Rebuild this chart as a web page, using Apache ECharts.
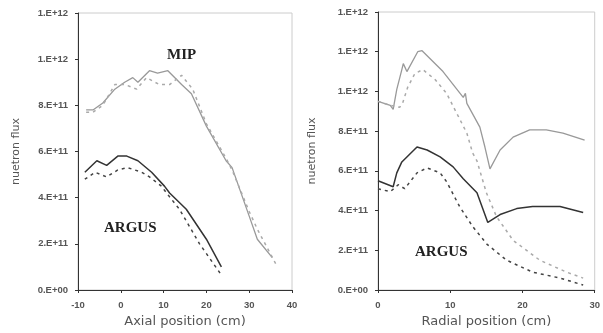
<!DOCTYPE html>
<html>
<head>
<meta charset="utf-8">
<script src="https://cdn.jsdelivr.net/npm/echarts@6/dist/echarts.min.js"></script>
<style>
  html, body { margin: 0; padding: 0; background: #fff; }
  #chart { width: 603px; height: 333px; }
</style>
</head>
<body>
<div id="chart"></div>
<script>
// flux values are in units of 1E+11
const yLabels = ['0.E+00', '2.E+11', '4.E+11', '6.E+11', '8.E+11', '1.E+12', '1.E+12', '1.E+12']

// left panel: axial position (cm)
const axialMipCalc = [[-8.1, 7.8], [-6.5, 7.8], [-4.2, 8.1], [-1.4, 8.7], [0.9, 9.0], [2.8, 9.2], [4, 9.0], [6.7, 9.5], [8.6, 9.4], [11, 9.5], [14.2, 8.9], [16.5, 8.5], [20, 7.1], [24.6, 5.6], [26, 5.3], [30, 3.2], [31.9, 2.2], [35.4, 1.4]]
const axialMipMeas = [[-8.1, 7.7], [-6.5, 7.7], [-4.2, 8.0], [-1.4, 8.9], [1, 8.9], [3.7, 8.7], [6, 9.2], [9, 8.9], [11.4, 8.9], [14.2, 9.3], [16.8, 8.7], [20, 7.2], [24.6, 5.7], [26, 5.2], [30, 3.4], [32, 2.6], [36.3, 1.1]]
const axialArgusCalc = [[-8.4, 5.1], [-5.6, 5.6], [-3.3, 5.4], [-0.7, 5.8], [1.4, 5.8], [4, 5.6], [7.2, 5.1], [10.2, 4.5], [11.4, 4.2], [15.3, 3.5], [20, 2.2], [23.5, 1.0]]
const axialArgusMeas = [[-8.4, 4.8], [-6, 5.1], [-3.3, 4.9], [-0.7, 5.2], [1.6, 5.3], [4.9, 5.1], [6.7, 4.9], [9.5, 4.5], [10.7, 4.2], [13.7, 3.5], [18.4, 2.0], [23.5, 0.65]]

// right panel: radial position (cm)
const radialMipCalc = [[0, 9.5], [1.7, 9.3], [2.1, 9.1], [2.6, 10.1], [3.3, 11.1], [3.5, 11.4], [4, 11.0], [5.5, 12.0], [6.1, 12.05], [6.8, 11.8], [9, 11.0], [11.8, 9.7], [12.1, 9.9], [12.3, 9.4], [14.1, 8.2], [14.8, 7.2], [15.5, 6.1], [16.9, 7.05], [18.7, 7.7], [21, 8.06], [23.3, 8.06], [25.6, 7.9], [28.6, 7.55]]
const radialMipMeas = [[0, 9.5], [1.7, 9.3], [3, 9.2], [3.4, 9.4], [4.1, 10.2], [5.1, 10.9], [6.2, 11.1], [7.9, 10.6], [9.5, 9.9], [10.9, 8.9], [12.3, 7.9], [13.1, 6.9], [13.7, 6.5], [15, 4.9], [16.4, 3.7], [18.7, 2.5], [22.4, 1.5], [26.1, 0.9], [28.4, 0.6]]
const radialArgusCalc = [[0, 5.5], [2.1, 5.2], [2.6, 5.9], [3.3, 6.45], [5.4, 7.2], [6.8, 7.05], [8.6, 6.7], [10.4, 6.2], [11.8, 5.6], [13.7, 4.9], [15.2, 3.4], [16.9, 3.8], [19.2, 4.1], [21.4, 4.2], [25.2, 4.2], [28.4, 3.9]]
const radialArgusMeas = [[0, 5.1], [1.7, 4.95], [2.8, 5.3], [3.7, 5.1], [5.4, 5.9], [6.8, 6.15], [8.6, 5.9], [9.5, 5.45], [11.3, 4.2], [13.1, 3.2], [15.1, 2.3], [17.8, 1.5], [21.4, 0.9], [25.2, 0.6], [28.4, 0.25]]

const chart = echarts.init(document.getElementById('chart'))

const tickFont = { color: '#555', fontSize: 9.5, fontFamily: 'Liberation Sans', fontWeight: 'bold' }

const mkX = (idx, min, max, name) => ({
  type: 'value', gridIndex: idx, min: min, max: max, interval: 10,
  name: name, nameLocation: 'middle', nameGap: 25,
  nameTextStyle: { color: '#555', fontSize: 13, fontFamily: 'DejaVu Sans' },
  axisLine: { onZero: false, lineStyle: { color: '#333', width: 1 } },
  axisTick: { length: 3, lineStyle: { color: '#333' } },
  axisLabel: Object.assign({ margin: 10 }, tickFont),
  splitLine: { show: false }
})

const mkY = (idx, max, gap) => ({
  type: 'value', gridIndex: idx, min: 0, max: max, interval: 2,
  name: 'nuetron flux', nameLocation: 'middle', nameGap: gap,
  nameTextStyle: { color: '#555', fontSize: 11, fontFamily: 'DejaVu Sans' },
  axisLine: { show: true, onZero: false, lineStyle: { color: '#333', width: 1 } },
  axisTick: { show: true, length: 3, lineStyle: { color: '#333' } },
  axisLabel: Object.assign({ margin: 10, formatter: v => yLabels[Math.round(v / 2)] }, tickFont),
  splitLine: { show: false }
})

const mkLine = (idx, data, color, dashed, width) => ({
  type: 'line', xAxisIndex: idx, yAxisIndex: idx, data: data,
  symbol: 'none', smooth: false,
  lineStyle: { color: color, width: width, type: dashed ? [3, 4] : 'solid' }
})

const labelStyle = { fontFamily: 'Liberation Serif', fontWeight: 'bold', fontSize: 15, fill: '#222' }

chart.setOption({
  animation: false,
  backgroundColor: '#fff',
  grid: [
    { left: 78, right: 311, top: 13, bottom: 43, show: true, borderColor: '#ccc', borderWidth: 1 },
    { left: 378, right: 8, top: 12, bottom: 43, show: true, borderColor: '#ccc', borderWidth: 1 }
  ],
  xAxis: [
    mkX(0, -10, 40, 'Axial position (cm)'),
    mkX(1, 0, 30, 'Radial position (cm)')
  ],
  yAxis: [
    mkY(0, 12, 56),
    mkY(1, 14, 60)
  ],
  graphic: [
    { type: 'text', left: 167, top: 48, style: Object.assign({ text: 'MIP' }, labelStyle) },
    { type: 'text', left: 104, top: 221, style: Object.assign({ text: 'ARGUS' }, labelStyle) },
    { type: 'text', left: 415, top: 245, style: Object.assign({ text: 'ARGUS' }, labelStyle) }
  ],
  series: [
    mkLine(0, axialMipCalc, '#999', false, 1.3),
    mkLine(0, axialMipMeas, '#aaa', true, 1.5),
    mkLine(0, axialArgusCalc, '#333', false, 1.5),
    mkLine(0, axialArgusMeas, '#444', true, 1.5),
    mkLine(1, radialMipCalc, '#999', false, 1.3),
    mkLine(1, radialMipMeas, '#aaa', true, 1.5),
    mkLine(1, radialArgusCalc, '#333', false, 1.5),
    mkLine(1, radialArgusMeas, '#444', true, 1.5)
  ]
})
</script>
</body>
</html>
